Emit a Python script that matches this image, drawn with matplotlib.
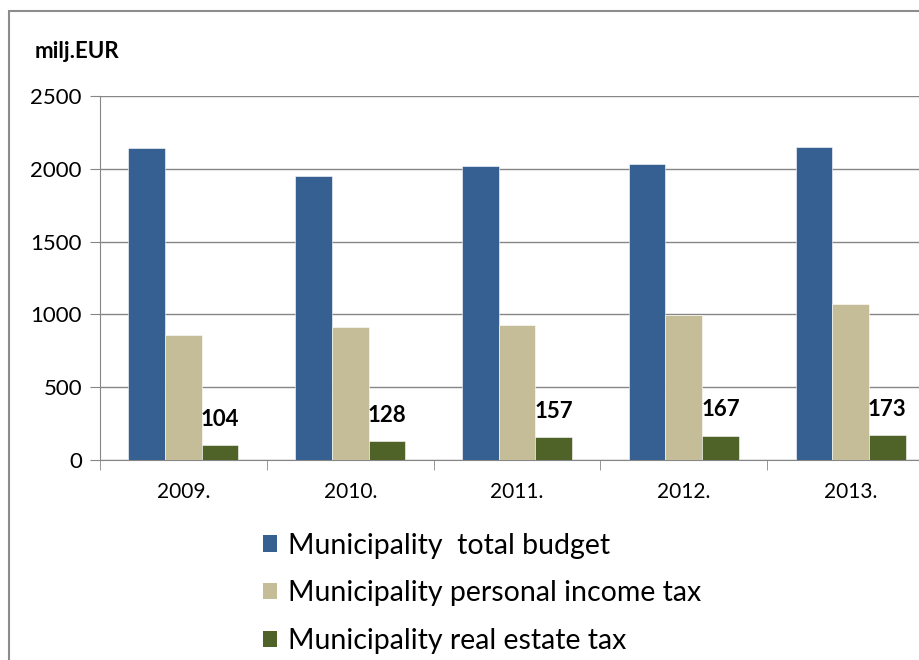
import matplotlib
matplotlib.use("Agg")
import matplotlib.pyplot as plt
import numpy as np
from matplotlib.patches import Patch, Rectangle

years = ["2009.", "2010.", "2011.", "2012.", "2013."]
total_budget = [2143, 1950, 2019, 2033, 2150]
income_tax = [858, 913, 927, 996, 1071]
estate_tax = [104, 128, 157, 167, 173]

series_names = [
    "Municipality  total budget",
    "Municipality personal income tax",
    "Municipality real estate tax",
]
colors = ["#366092", "#C4BD97", "#4F6228"]

plt.rcParams["font.family"] = ["Lato", "DejaVu Sans"]

fig = plt.figure(figsize=(9.2, 6.6), dpi=100)
ax = fig.add_axes([100 / 920, 200 / 660, 834 / 920, 364 / 660])

x = np.arange(len(years))
w = 0.22
for i, (vals, col) in enumerate(zip([total_budget, income_tax, estate_tax], colors)):
    ax.bar(x + (i - 1) * w, vals, width=w, color=col, edgecolor="white",
           linewidth=0.4, zorder=3, label=series_names[i])

for xi, v in zip(x, estate_tax):
    ax.annotate(str(v), (xi + w, v), xytext=(0, 11), textcoords="offset points",
                ha="center", va="bottom", fontsize=16, fontweight="bold")

ax.set_xlim(-0.5, len(years) - 0.5)
ax.set_ylim(0, 2500)
ax.set_yticks(np.arange(0, 2501, 500))
ax.yaxis.grid(True, color="#868686", linewidth=1, zorder=0)
ax.tick_params(axis="y", labelsize=16, length=7, color="#868686", pad=6)

ax.set_xticks(x)
ax.set_xticklabels(years, fontsize=15)
ax.set_xticks(np.arange(-0.5, len(years)), minor=True)
ax.tick_params(axis="x", which="major", length=0, pad=16)
ax.tick_params(axis="x", which="minor", length=7, color="#868686")

for side in ["top", "right"]:
    ax.spines[side].set_visible(False)
ax.spines["left"].set_color("#868686")
ax.spines["bottom"].set_color("#868686")

fig.text(35 / 920, 1 - 52 / 660, "milj.EUR", fontsize=16, fontweight="bold",
         va="center", ha="left")

handles = [Patch(facecolor=c, edgecolor="none") for c in colors]
fig.legend(handles, series_names, loc="upper left",
           bbox_to_anchor=(237 / 920, 1 - 507 / 660), frameon=False,
           fontsize=20.5, handlelength=0.5, handleheight=0.5,
           handletextpad=0.4, labelspacing=0.76)

# chart frame
fig.patches.append(Rectangle((9 / 920, -0.1), 1.2, 1 - 11 / 660 + 0.1,
                             transform=fig.transFigure, fill=False,
                             edgecolor="#8C8C8C", linewidth=1.5))

fig.savefig("out.png", dpi=100)
